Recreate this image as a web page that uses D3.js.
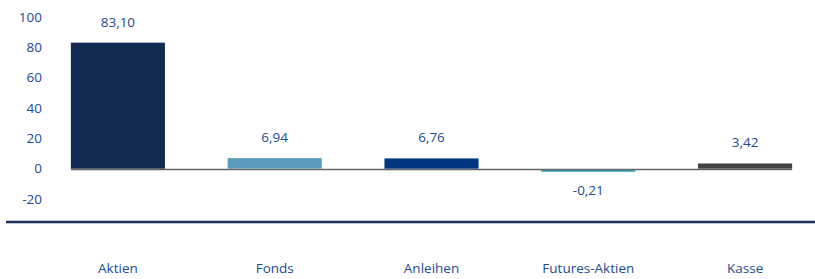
<!DOCTYPE html>
<html><head><meta charset="utf-8">
<script src="https://cdn.jsdelivr.net/npm/d3@7"></script>
<style>body{margin:0;background:#fff}svg{display:block}text{font-family:"Open Sans",sans-serif}</style>
</head><body><svg id="c" width="815" height="279"></svg>
<script>
const categories = ["Aktien","Fonds","Anleihen","Futures-Aktien","Kasse"];
const values = [83.10, 6.94, 6.76, -0.21, 3.42];
const colors = ["#132b52","#5b9aba","#003781","#1a8aa8","#414141"];
const yTicks = [100,80,60,40,20,0,-20];

const svg = d3.select("#c");
const textColor = "#1c4b90";
const fs = "13.5px";
const x = d3.scaleBand().domain(categories).range([39.5,823.5]).paddingInner(0.4).paddingOuter(0.2);
const y = d3.scaleLinear().domain([-20,100]).range([199,17]);

// y tick labels
const yAxis = d3.axisLeft(y).tickValues(yTicks).tickSize(0).tickPadding(0).tickFormat(d=>d);
const ga = svg.append("g").attr("transform","translate(42,0)").call(yAxis);
ga.select(".domain").remove();
ga.selectAll("text").attr("fill",textColor).style("font-size",fs).style("font-family","'Open Sans',sans-serif");

// zero line
svg.append("line").attr("x1",x(categories[0])).attr("x2",x(categories[4])+x.bandwidth())
  .attr("y1",y(0)+0.75).attr("y2",y(0)+0.75).attr("stroke","#666666").attr("stroke-width",1.5);

// bars
svg.selectAll("rect.bar").data(values).enter().append("rect")
  .attr("x",(d,i)=>x(categories[i]))
  .attr("width",x.bandwidth())
  .attr("y",d=> d>=0 ? y(d) : y(0)+1.5)
  .attr("height",d=> d>=0 ? y(0)-y(d) : Math.max(1.5,y(d)-y(0)))
  .attr("fill",(d,i)=>colors[i]);

// value labels
const fmt = d=>d.toFixed(2).replace(".",",");
svg.selectAll("text.val").data(values).enter().append("text")
  .attr("x",(d,i)=>x(categories[i])+x.bandwidth()/2)
  .attr("y",d=> d>=0 ? y(d)-16 : y(d)+26)
  .attr("text-anchor","middle").attr("fill",textColor).style("font-size",fs)
  .text(fmt);

// bottom line
svg.append("line").attr("x1",6).attr("x2",815).attr("y1",222).attr("y2",222)
  .attr("stroke","#1a2e5a").attr("stroke-width",2.5);

// category labels
const xAxis = d3.axisBottom(x).tickSize(0).tickPadding(0);
const gx = svg.append("g").attr("transform","translate(0,263)").call(xAxis);
gx.select(".domain").remove();
gx.selectAll("text").attr("fill",textColor).style("font-size",fs).style("font-family","'Open Sans',sans-serif");
</script></body></html>
